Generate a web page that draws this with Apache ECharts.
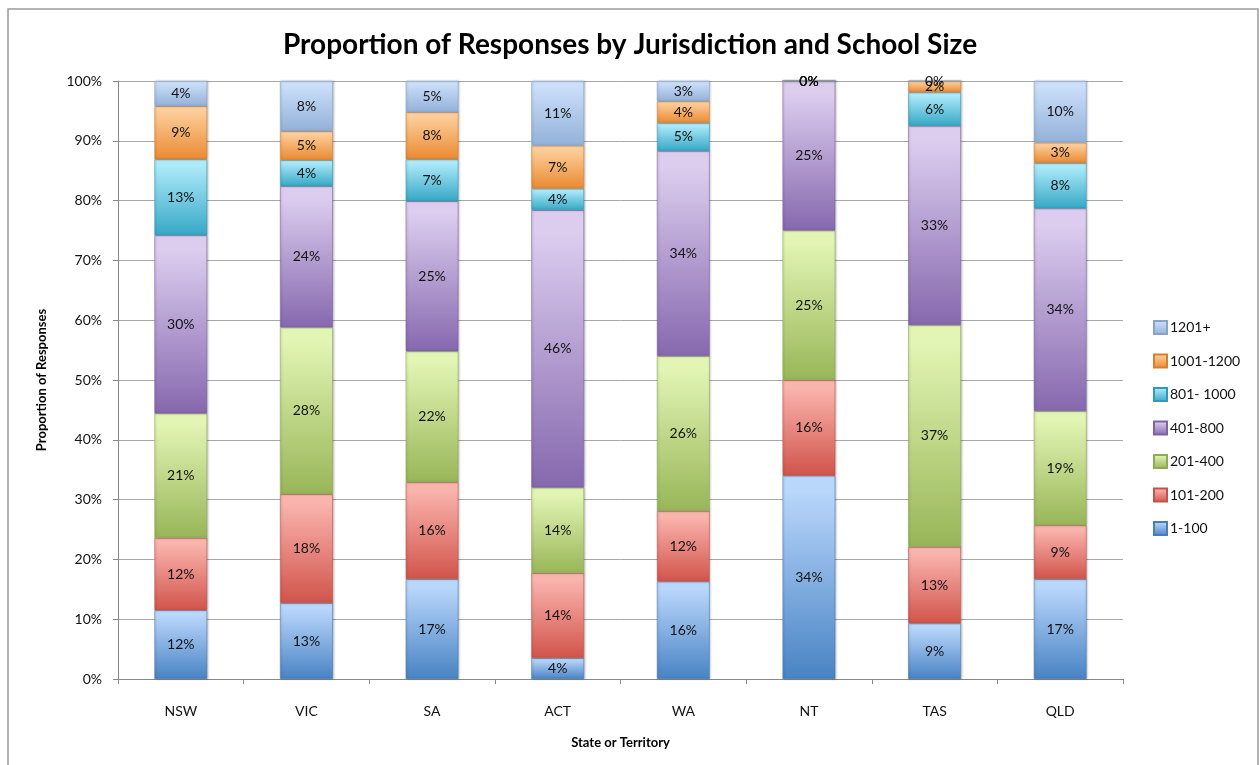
<!DOCTYPE html>
<html>
<head>
<meta charset="utf-8">
<script src="https://cdn.jsdelivr.net/npm/echarts@6/dist/echarts.min.js"></script>
<style>
  html, body { margin: 0; padding: 0; background: #ffffff; }
  #chart { width: 1260px; height: 765px; }
</style>
</head>
<body>
<div id="chart"></div>
<script>
// States and territories along the x axis
const states = ['NSW', 'VIC', 'SA', 'ACT', 'WA', 'NT', 'TAS', 'QLD'];

// Share of responses (%) in each school-size band, per state
const size1to100     = [11.5, 12.7, 16.7,  3.5, 16.3, 34.0,  9.3, 16.7];
const size101to200   = [12.1, 18.2, 16.2, 14.2, 11.8, 16.0, 12.8,  9.0];
const size201to400   = [20.8, 27.9, 21.9, 14.3, 25.9, 25.0, 37.1, 19.1];
const size401to800   = [29.8, 23.6, 25.1, 46.4, 34.3, 25.0, 33.3, 33.9];
const size801to1000  = [12.7,  4.4,  7.0,  3.6,  4.7,  0.0,  5.6,  7.6];
const size1001to1200 = [ 8.9,  4.8,  7.9,  7.2,  3.6,  0.0,  1.9,  3.4];
const size1201plus   = [ 4.2,  8.4,  5.2, 10.8,  3.4,  0.0,  0.0, 10.3];

const bandNames = ['1-100', '101-200', '201-400', '401-800', '801- 1000', '1001-1200', '1201+'];
const bandValues = [size1to100, size101to200, size201to400, size401to800,
                    size801to1000, size1001to1200, size1201plus];

// Glossy band colours: [light top, dark bottom, edge]
const bandColors = [
  ['#b9d6fb', '#4883c4', '#4a7db5'],
  ['#fab4ae', '#d1544b', '#c0554d'],
  ['#e2f5b4', '#98b658', '#8fab55'],
  ['#dccdef', '#8668ae', '#7e64a2'],
  ['#aeeafa', '#36a8c6', '#3599b4'],
  ['#fdcf9c', '#ea8a32', '#d77f30'],
  ['#cbdffa', '#93b1d8', '#88a4c9']
];

const FONT = 'Lato, "Open Sans", sans-serif';

function grad(c) {
  return new echarts.graphic.LinearGradient(0, 0, 0, 1, [
    { offset: 0, color: c[0] },
    { offset: 0.08, color: c[0] },
    { offset: 1, color: c[1] }
  ]);
}

const series = bandNames.map((name, i) => ({
  name: name,
  type: 'bar',
  stack: 'total',
  barWidth: '42%',
  data: bandValues[i],
  itemStyle: {
    color: grad(bandColors[i]),
    borderColor: bandColors[i][2],
    borderWidth: 0.6,
    shadowColor: 'rgba(0,0,0,0.22)',
    shadowBlur: 2,
    shadowOffsetX: 1
  },
  label: {
    show: true,
    position: 'inside',
    formatter: p => Math.round(p.value) + '%',
    color: '#111',
    fontFamily: FONT,
    fontSize: 14
  },
  emphasis: { disabled: true }
}));

const chart = echarts.init(document.getElementById('chart'), null, { renderer: 'canvas' });

chart.setOption({
  backgroundColor: '#ffffff',
  animation: false,
  title: {
    text: 'Proportion of Responses by Jurisdiction and School Size',
    left: 625,
    textAlign: 'center',
    top: 26,
    textStyle: { fontFamily: FONT, fontWeight: 'bold', fontSize: 28, color: '#000' }
  },
  graphic: [{
    type: 'rect',
    shape: { x: 8, y: 9, width: 1250, height: 800 },
    style: { fill: 'none', stroke: '#9a9a9a', lineWidth: 1.5 },
    silent: true,
    z: -1
  }],
  legend: {
    orient: 'vertical',
    left: 1148,
    top: 315,
    itemWidth: 13,
    itemHeight: 13,
    itemGap: 18.5,
    icon: 'rect',
    data: bandNames.slice().reverse(),
    textStyle: { fontFamily: FONT, fontSize: 14, color: '#111', padding: [0, 0, 0, -2] }
  },
  grid: { left: 118, right: 137, top: 81, bottom: 86 },
  xAxis: {
    type: 'category',
    data: states,
    name: 'State or Territory',
    nameLocation: 'middle',
    nameGap: 57,
    nameTextStyle: { fontFamily: FONT, fontWeight: 'bold', fontSize: 13, color: '#000' },
    axisLine: { lineStyle: { color: '#888', width: 1 } },
    axisTick: { show: true, length: 5, lineStyle: { color: '#888' } },
    axisLabel: { fontFamily: FONT, fontSize: 14, color: '#111', margin: 25 }
  },
  yAxis: {
    type: 'value',
    min: 0,
    max: 100,
    interval: 10,
    name: 'Proportion of Responses',
    nameLocation: 'middle',
    nameGap: 70,
    nameTextStyle: { fontFamily: FONT, fontWeight: 'bold', fontSize: 13, color: '#000' },
    axisLine: { show: true, lineStyle: { color: '#888', width: 1 } },
    axisTick: { show: true, length: 5, inside: false, lineStyle: { color: '#888' } },
    axisLabel: { fontFamily: FONT, fontSize: 14, color: '#111', margin: 16, formatter: v => v + '%' },
    splitLine: { lineStyle: { color: '#a8a8a8', width: 1 } }
  },
  series: series
});
</script>
</body>
</html>
